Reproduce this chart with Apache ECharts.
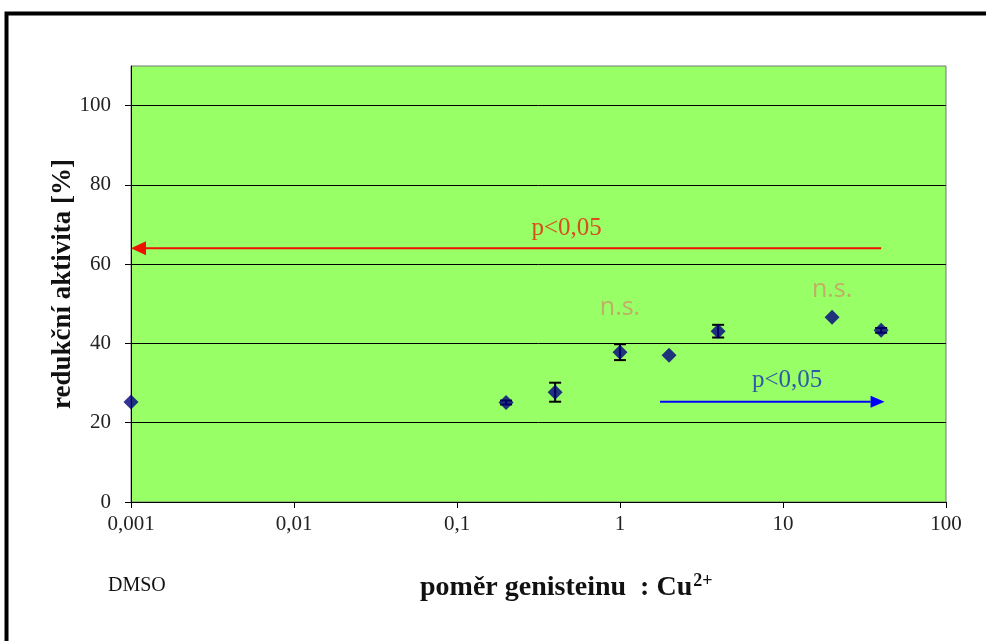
<!DOCTYPE html>
<html>
<head>
<meta charset="utf-8">
<script src="https://cdn.jsdelivr.net/npm/echarts@6/dist/echarts.min.js"></script>
<style>
  html, body { margin: 0; padding: 0; background: #fff; }
  #main { width: 986px; height: 641px; }
</style>
</head>
<body>
<div id="main"></div>
<script>
// ratio genistein : Cu2+ (0.001 stands for DMSO control)
var ratios = [0.001, 0.2, 0.4, 1, 2, 4, 20, 40];
var activity = [25.2, 25.1, 27.7, 37.8, 37.0, 43.1, 46.6, 43.3];
var errors = [0, 0.5, 2.4, 2.0, 0, 1.6, 0, 0.6];
var yTicks = [0, 20, 40, 60, 80, 100];

// significance arrows: [from x, to x, y]
var redArrow = [40, 0.001, 64];
var blueArrow = [1.76, 42, 25.3];
// annotation texts at data coordinates
var notes = [
  { text: 'p<0,05', x: 0.47, y: 69, kind: 'red' },
  { text: 'p<0,05', x: 10.6, y: 30.7, kind: 'blue' },
  { text: 'n.s.', x: 1, y: 49, kind: 'ns' },
  { text: 'n.s.', x: 20, y: 53.6, kind: 'ns' }
];

var serif = '"Liberation Serif", "DejaVu Serif", serif';
var noteStyles = {
  red: { color: '#E8200A', fontFamily: serif, fontSize: 25 },
  blue: { color: '#1530B8', fontFamily: serif, fontSize: 25 },
  ns: { color: '#CC9966', fontFamily: '"Open Sans", "Liberation Sans", sans-serif', fontSize: 25 }
};

var points = ratios.map(function (r, i) { return [r, activity[i]]; });
var bars = ratios.map(function (r, i) {
  return [r, activity[i] - errors[i], activity[i] + errors[i]];
}).filter(function (d, i) { return errors[i] > 0; });

function arrowSeries(arr, color, headLen, headHalf) {
  return {
    type: 'custom',
    silent: true,
    z: 2,
    clip: false,
    data: [arr],
    renderItem: function (params, api) {
      var a = api.coord([api.value(0), api.value(2)]);
      var b = api.coord([api.value(1), api.value(2)]);
      var dir = b[0] > a[0] ? 1 : -1;
      var base = b[0] - dir * headLen;
      return {
        type: 'group',
        children: [
          { type: 'line', shape: { x1: a[0], y1: a[1], x2: base, y2: b[1] }, style: { stroke: color, lineWidth: 2 } },
          { type: 'polygon', shape: { points: [[b[0], b[1]], [base, b[1] - headHalf], [base, b[1] + headHalf]] }, style: { fill: color } }
        ]
      };
    }
  };
}

var myChart = echarts.init(document.getElementById('main'));
var option = {
  animation: false,
  backgroundColor: '#fff',
  grid: {
    left: 131, right: 40, top: 66, bottom: 139,
    show: true,
    backgroundColor: '#99FF66',
    borderColor: '#777',
    borderWidth: 1
  },
  xAxis: {
    type: 'log',
    logBase: 10,
    min: 0.001,
    max: 100,
    axisLine: { show: true, lineStyle: { color: '#000', width: 1 } },
    axisTick: { show: true, length: 6, lineStyle: { color: '#000' } },
    minorTick: { show: false },
    splitLine: { show: false },
    axisLabel: {
      margin: 12,
      fontFamily: serif,
      fontSize: 21,
      color: '#222',
      formatter: function (v) { return String(+v.toPrecision(3)).replace('.', ','); }
    }
  },
  yAxis: {
    type: 'value',
    min: 0,
    max: 110,
    interval: 20,
    name: 'redukční aktivita [%]',
    nameLocation: 'middle',
    nameGap: 54,
    nameMoveOverlap: false,
    nameTextStyle: { fontFamily: serif, fontSize: 27, fontWeight: 'bold', color: '#111' },
    axisLine: { show: true, lineStyle: { color: '#000', width: 1 } },
    axisTick: { show: true, length: 6, customValues: yTicks, lineStyle: { color: '#000' } },
    splitLine: { show: true, lineStyle: { color: '#000', width: 1 } },
    axisLabel: {
      customValues: yTicks,
      margin: 20,
      fontFamily: serif,
      fontSize: 21,
      color: '#222'
    }
  },
  graphic: [
    {
      type: 'rect',
      shape: { x: 6.5, y: 13.5, width: 1000, height: 700 },
      style: { fill: 'none', stroke: '#000', lineWidth: 4 },
      silent: true
    },
    {
      type: 'text',
      left: 108, top: 576,
      style: { text: 'DMSO', font: '20px ' + serif, fill: '#111' }
    },
    {
      type: 'text',
      left: 420, top: 572,
      style: {
        text: '{a|poměr genisteinu  : Cu}{s|2+}',
        rich: {
          a: { fontFamily: serif, fontSize: 28, fontWeight: 'bold', fill: '#111', verticalAlign: 'bottom' },
          s: { fontFamily: serif, fontSize: 18, fontWeight: 'bold', fill: '#111', verticalAlign: 'top', padding: [0, 0, 12, 1] }
        }
      }
    }
  ],
  series: [
    {
      name: 'chyba',
      type: 'custom',
      data: bars,
      z: 3,
      renderItem: function (params, api) {
        var lo = api.coord([api.value(0), api.value(1)]);
        var hi = api.coord([api.value(0), api.value(2)]);
        var w = 6;
        var st = { stroke: '#000', lineWidth: 2 };
        return {
          type: 'group',
          children: [
            { type: 'line', shape: { x1: lo[0], y1: lo[1], x2: hi[0], y2: hi[1] }, style: st },
            { type: 'line', shape: { x1: lo[0] - w, y1: lo[1], x2: lo[0] + w, y2: lo[1] }, style: st },
            { type: 'line', shape: { x1: hi[0] - w, y1: hi[1], x2: hi[0] + w, y2: hi[1] }, style: st }
          ]
        };
      }
    },
    {
      name: 'redukční aktivita',
      type: 'scatter',
      data: points,
      symbol: 'diamond',
      symbolSize: 15,
      clip: false,
      z: 4,
      itemStyle: { color: '#000080' }
    },
    arrowSeries(redArrow, '#EE1100', 15, 7),
    arrowSeries(blueArrow, '#0000FF', 14, 6),
    {
      name: 'poznámky',
      type: 'scatter',
      symbolSize: 0,
      silent: true,
      data: notes.map(function (n) {
        return {
          value: [n.x, n.y],
          label: Object.assign({ show: true, position: 'inside', formatter: n.text }, noteStyles[n.kind])
        };
      })
    }
  ]
};
myChart.setOption(option);
window.addEventListener('resize', myChart.resize);
</script>
</body>
</html>
